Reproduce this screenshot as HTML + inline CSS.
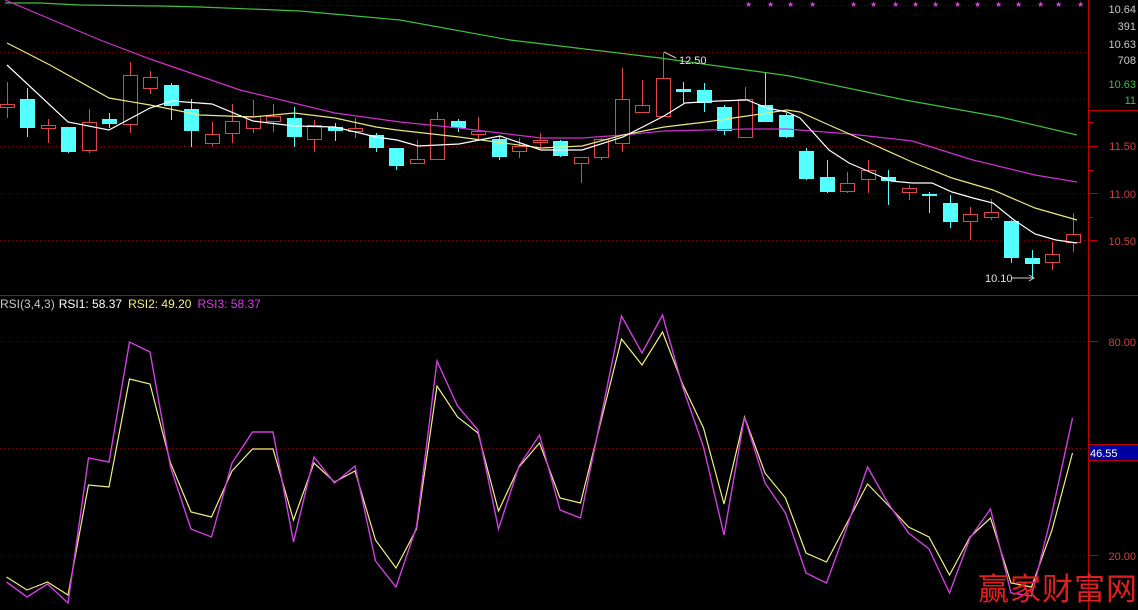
<!DOCTYPE html>
<html><head><meta charset="utf-8"><style>
html,body{margin:0;padding:0;background:#000;width:1138px;height:610px;overflow:hidden}
svg{display:block}
text{font-family:"Liberation Sans",sans-serif}
</style></head><body>
<svg id="s" width="1138" height="610" xmlns="http://www.w3.org/2000/svg">
<rect width="1138" height="610" fill="#000"/>
<g stroke="#7a0000" stroke-dasharray="1,3" stroke-width="1">
<line x1="0" y1="5.5" x2="1088" y2="5.5"/>
<line x1="0" y1="52.5" x2="1088" y2="52.5"/><line x1="0" y1="99.5" x2="1088" y2="99.5"/>
<line x1="0" y1="146.5" x2="1088" y2="146.5"/><line x1="0" y1="193.5" x2="1088" y2="193.5"/>
<line x1="0" y1="240.5" x2="1088" y2="240.5"/>
<line x1="0" y1="341.5" x2="1088" y2="341.5"/><line x1="0" y1="448.5" x2="1088" y2="448.5"/>
<line x1="0" y1="555.5" x2="1088" y2="555.5"/>
</g>
<g stroke="#c00000" stroke-width="1">
<line x1="1088.5" y1="0" x2="1088.5" y2="610"/>
<line x1="0" y1="295.5" x2="1138" y2="295.5"/>
<line x1="1088" y1="110.5" x2="1138" y2="110.5"/>
<line x1="1088" y1="122.5" x2="1093" y2="122.5"/><line x1="1088" y1="146.5" x2="1098" y2="146.5"/>
<line x1="1088" y1="170.5" x2="1093" y2="170.5"/><line x1="1088" y1="193.5" x2="1098" y2="193.5"/>
<line x1="1088" y1="217.5" x2="1093" y2="217.5"/><line x1="1088" y1="240.5" x2="1098" y2="240.5"/>
<line x1="1088" y1="341.5" x2="1098" y2="341.5"/><line x1="1088" y1="555.5" x2="1098" y2="555.5"/>
<line x1="1088" y1="444.5" x2="1138" y2="444.5"/><line x1="1088" y1="460.5" x2="1138" y2="460.5"/>
</g>
<g id="cd"></g>
<g fill="none" stroke-width="1.2">
<polyline stroke="#40c040" points="5,3 40,3 80,5 160,6 200,7 300,11 400,20 510,40 660,58 790,76 905,100 1000,117 1077,135"/>
<polyline stroke="#d030d0" points="5,0 100,40 150,59 240,90 335,113 400,122 459,128 541,138 582,138 623,135 664,131 747,129 787,129 850,134 912,141 973,160 1035,175 1077,182"/>
<polyline stroke="#e8e880" points="7,43 50,65 109,98 150,105 200,115 253,117 294,113 335,118 376,127 397,130 459,137 541,148 582,146 623,135 664,127 706,122 747,116 787,110 800,112 829,125 870,143 912,162 952,178 993,190 1035,208 1077,220"/>
<polyline stroke="#ffffff" points="7,65 68,122 109,130 150,108 172,101 212,104 253,121 294,126 335,127 376,137 397,140 418,146 459,144 500,136 541,150 582,150 623,137 664,116 685,103 718,101 747,100 767,108 787,112 800,118 829,150 849,163 870,172 891,181 912,183 932,183 952,192 973,198 993,203 1014,220 1035,234 1056,240 1077,243"/>
</g>
<polyline id="ry" fill="none" stroke="#f0f080" stroke-width="1.2"/>
<polyline id="rm" fill="none" stroke="#d040e0" stroke-width="1.4"/>
<g font-size="11" fill="#e0e0e0">
<line x1="664" y1="52" x2="676" y2="58" stroke="#ccc"/>
<text x="679" y="64">12.50</text>
<text x="985" y="282">10.10</text>
<line x1="1012" y1="278" x2="1034" y2="278" stroke="#ccc"/>
<path d="M1029,275 L1034,278 L1029,281" stroke="#ccc" fill="none"/>
</g>
<g font-size="11" text-anchor="end">
<text x="1136" y="13" fill="#c8c8c8">10.64</text>
<text x="1136" y="30" fill="#c8c8c8">391</text>
<text x="1136" y="48" fill="#c8c8c8">10.63</text>
<text x="1136" y="64" fill="#c8c8c8">708</text>
<text x="1136" y="88" fill="#40c040">10.63</text>
<text x="1136" y="104" fill="#40c040">11</text>
<text x="1136" y="150" fill="#d04040">11.50</text>
<text x="1136" y="198" fill="#d04040">11.00</text>
<text x="1136" y="245" fill="#d04040">10.50</text>
<text x="1136" y="346" fill="#d04040">80.00</text>
<text x="1136" y="560" fill="#d04040">20.00</text>
</g>
<rect x="1089" y="445" width="49" height="15" fill="#0000a0"/>
<text x="1090" y="457" font-size="11" fill="#ffffff">46.55</text>
<text x="0" y="308" font-size="12"><tspan fill="#c8c8c8">RSI(3,4,3)</tspan><tspan fill="#ffffff" dx="4">RSI1: 58.37</tspan><tspan fill="#f0f080" dx="6">RSI2: 49.20</tspan><tspan fill="#d040e0" dx="6">RSI3: 58.37</tspan></text>
<g font-size="8" fill="#e040e0" id="stars"></g>
<text x="978" y="600" font-size="31" fill="#e02020" font-family="'Noto Serif CJK SC','WenQuanYi Zen Hei',serif" letter-spacing="1">赢家财富网</text>
</svg>
<script>
var X=function(i){return 6.5+20.5*i;};
var C=[
[1,82,118,104,107],[0,88,137,99,128],[1,119,143,125,128],[0,127,153,127,152],[1,109,153,122,150],
[0,113,128,119,124],[1,62,133,75,124],[1,71,94,77,88],[0,83,120,85,106],[0,99,147,109,131],
[1,122,146,134,143],[1,104,143,121,133],[1,100,133,116,128],[1,104,132,116,121],[0,107,147,118,137],
[1,120,152,125,139],[0,123,141,127,131],[1,118,138,128,131],[0,133,152,135,148],[0,148,170,148,166],
[1,140,163,159,163],[1,112,160,119,159],[0,119,132,121,128],[1,117,140,131,134],[0,137,160,139,157],
[1,138,158,146,151],[1,133,147,140,142],[0,140,157,141,156],[1,157,183,157,163],[1,138,160,139,157],
[1,68,152,99,143],[1,80,113,105,112],[1,52,116,78,116],[0,82,103,89,92],[0,83,112,90,103],
[0,105,135,107,131],[1,87,137,99,137],[0,73,122,105,122],[0,113,138,115,137],[0,148,180,151,179],
[0,160,193,177,192],[1,172,193,183,191],[1,160,193,170,179],[0,170,205,177,181],[1,185,200,188,192],
[0,192,213,194,196],[0,195,228,203,222],[1,207,240,214,221],[1,199,220,212,217],[0,220,263,221,258],
[0,250,278,258,264],[1,242,270,254,262],[1,213,252,234,242]];
var h='';
C.forEach(function(c,i){var x=Math.round(X(i))+0.5;
if(c[0]){h+='<line x1="'+x+'" y1="'+c[1]+'" x2="'+x+'" y2="'+c[3]+'" stroke="#e04848"/>';
h+='<line x1="'+x+'" y1="'+c[4]+'" x2="'+x+'" y2="'+c[2]+'" stroke="#e04848"/>';
h+='<rect x="'+(x-7)+'" y="'+(c[3]+0.5)+'" width="14" height="'+Math.max(c[4]-c[3],1)+'" fill="#000" stroke="#e04848"/>';}
else{h+='<line x1="'+x+'" y1="'+c[1]+'" x2="'+x+'" y2="'+c[2]+'" stroke="#54ffff"/>';
h+='<rect x="'+(x-7.5)+'" y="'+c[3]+'" width="15" height="'+Math.max(c[4]-c[3],2)+'" fill="#54ffff"/>';}
});
document.getElementById('cd').innerHTML=h;
var M=[582,597,584,603,458,462,342,352,467,529,537,463,432,432,542,457,483,466,561,587,527,361,406,430,529,466,435,510,518,417,316,353,315,388,447,535,417,483,513,573,583,527,467,503,533,549,593,538,509,593,596,513,418];
var Y=[577,590,582,595,485,487,379,384,463,512,517,471,449,449,520,463,482,471,540,568,529,386,417,433,511,467,443,498,503,421,339,365,332,385,428,504,417,473,498,553,562,523,484,505,527,537,575,537,518,583,587,530,453];
function pts(a){return a.map(function(v,i){return X(i).toFixed(1)+','+v;}).join(' ');}
document.getElementById('rm').setAttribute('points',pts(M));
document.getElementById('ry').setAttribute('points',pts(Y));
var sx=[748,770,790,812,853,873,895,915,935,957,977,998,1018,1040,1058,1080],s='';
sx.forEach(function(x){s+='<text x="'+(x-3)+'" y="7">★</text>';});
document.getElementById('stars').innerHTML=s;
</script>
</body></html>
